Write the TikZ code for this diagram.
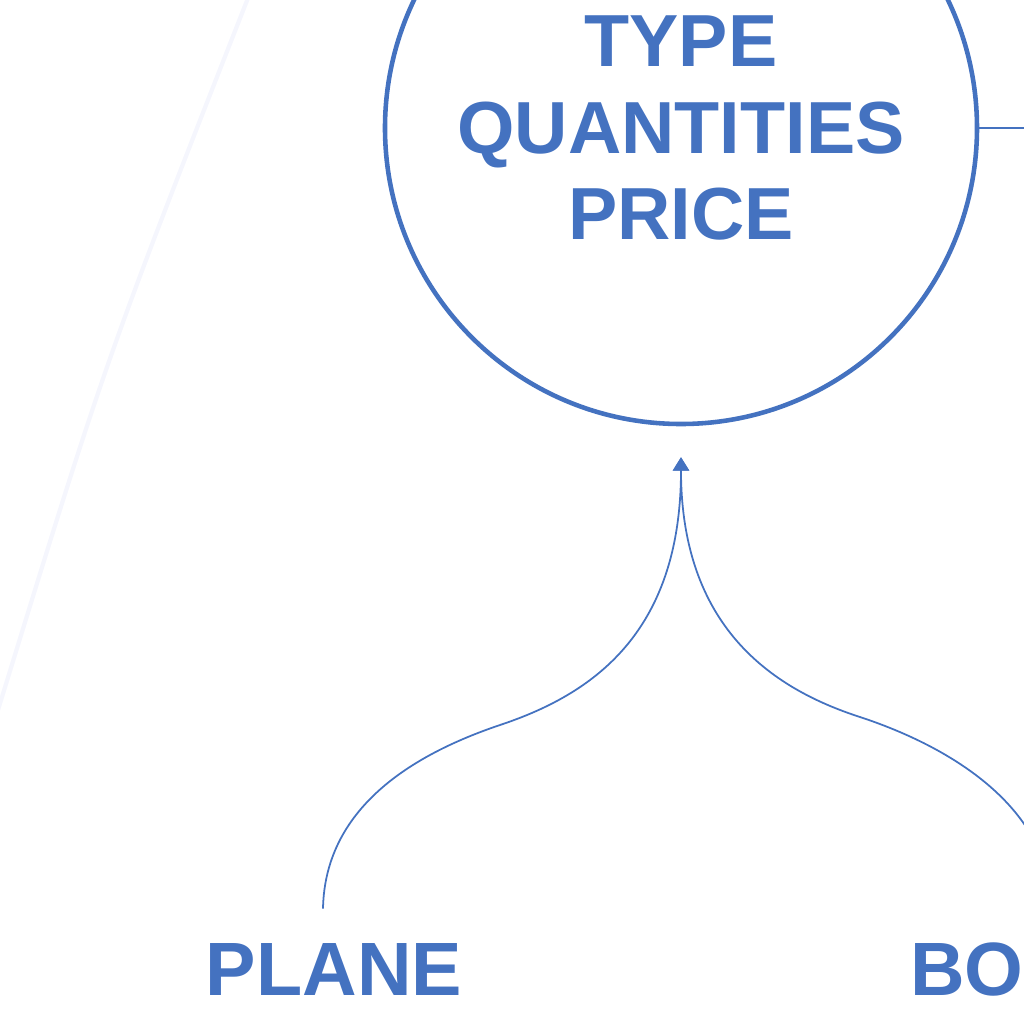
\documentclass[tikz,border=0pt]{standalone}
\usepackage{fontspec}
\setmainfont{Liberation Sans}
\usepackage{tikz}
\usetikzlibrary{arrows.meta,positioning,calc}
\definecolor{inkblue}{RGB}{68,114,192}
\definecolor{ghost}{RGB}{245,246,253}

\begin{document}
\begin{tikzpicture}[
  hubnode/.style={circle, draw=inkblue, line width=1.3pt, minimum size=5.92cm, align=center,
    text=inkblue, font=\fontsize{21}{24.6}\selectfont\bfseries},
  itemnode/.style={text=inkblue, font=\fontsize{21.5}{24}\selectfont\bfseries, anchor=base},
  link/.style={draw=inkblue, line width=0.5pt},
  arrow/.style={link, -{Triangle[length=3.8pt,width=4.6pt]}}
]
  % frame of the crop
  \useasboundingbox (0,0) rectangle (10.24,-10.24);
  \clip (0,0) rectangle (10.24,-10.24);

  % faint guide curve in the background
  \draw[ghost, line width=1.2pt] (2.48,0.02) .. controls (1.05,-3.62) .. (-0.02,-7.10);

  % Central circle
  \node[hubnode] (hub) at (6.81,-1.28) {TYPE\\QUANTITIES\\PRICE};
  \coordinate (edge) at (10.30,-1.26);
  \draw[link, line width=0.7pt] (hub.east) -- (hub.east -| edge);

  % Items below
  \node[itemnode] (plane) at (3.34,-9.95) {PLANE};
  \node[itemnode, anchor=base west] (boat) at (8.98,-9.95) {BO};

  % arrow tip just under the circle
  \coordinate (tip) at ([yshift=-0.31cm]hub.south);

  % Curved connectors into the circle
  \draw[arrow] ([xshift=-1.1mm,yshift=0.22cm]plane.north)
    .. controls +(0.02,1.05) and +(-0.80,-0.27) .. (5.00,-7.25)
    .. controls +(0.90,0.30) and +(0,-1.78) .. (tip);
  \draw[arrow] ([xshift=0.84cm,yshift=0.22cm]boat.north)
    .. controls +(0,0.95) and +(1.00,-0.33) .. (8.60,-7.17)
    .. controls +(-0.90,0.29) and +(0,-1.68) .. (tip);

\end{tikzpicture}
\end{document}
